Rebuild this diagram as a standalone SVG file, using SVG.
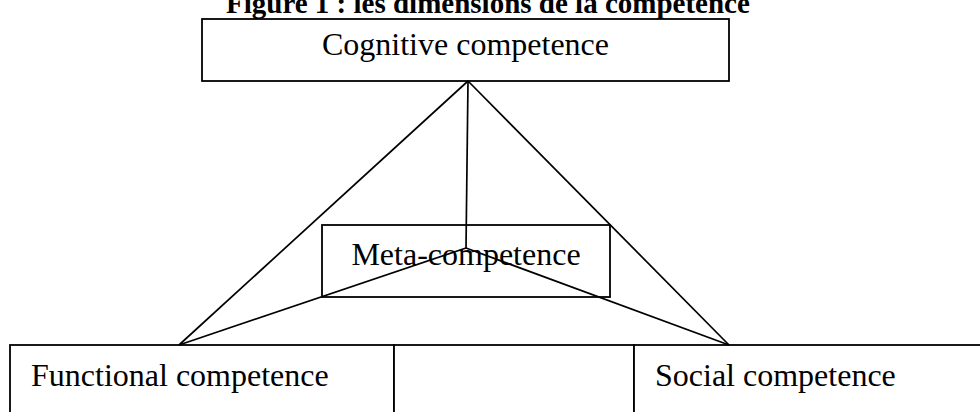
<svg xmlns="http://www.w3.org/2000/svg" width="980" height="412" viewBox="0 0 980 412">
<style>
.box{fill:#fff;stroke:#000;stroke-width:1.8}
.ln{stroke:#000;stroke-width:1.7;fill:none}
.t{font-family:"Liberation Serif","Times New Roman",serif;font-size:32px;fill:#000}
.title{font-family:"Liberation Serif","Times New Roman",serif;font-size:29px;font-weight:bold;fill:#000}
</style>
<rect width="980" height="412" fill="#fff"/>
<text class="title" x="226" y="13">Figure 1 : les dimensions de la compétence</text>
<g id="cognitive">
<rect class="box" x="202" y="19" width="527" height="62"/>
<text class="t" x="465.5" y="55" text-anchor="middle">Cognitive competence</text>
</g>
<g id="meta">
<rect class="box" x="322" y="225" width="288" height="72"/>
<text class="t" x="466" y="265" text-anchor="middle">Meta-competence</text>
</g>
<g id="functional">
<rect class="box" x="10" y="345" width="384" height="80"/>
<text class="t" x="31" y="386">Functional competence</text>
</g>
<g id="middle">
<rect class="box" x="394" y="345" width="240" height="80"/>
</g>
<g id="social">
<rect class="box" x="634" y="345" width="360" height="80"/>
<text class="t" x="655" y="386">Social competence</text>
</g>
<g id="connectors">
<line class="ln" x1="468" y1="81" x2="179" y2="345"/>
<line class="ln" x1="468" y1="81" x2="729" y2="345"/>
<line class="ln" x1="468" y1="81" x2="466" y2="248"/>
<line class="ln" x1="466" y1="248" x2="179" y2="345"/>
<line class="ln" x1="466" y1="248" x2="729" y2="345"/>
</g>
</svg>
